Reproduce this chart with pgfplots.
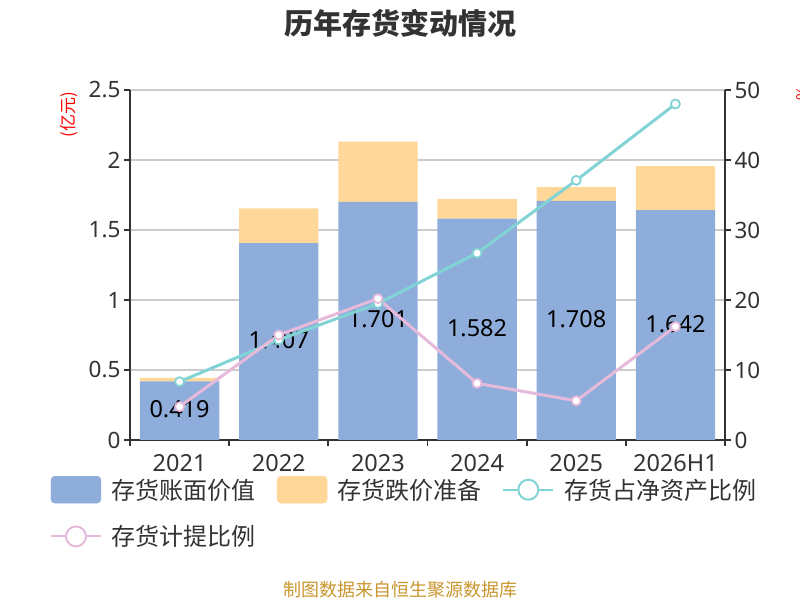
\documentclass[border=0pt]{standalone}
\usepackage{pgfplots}
\pgfplotsset{compat=1.18}
\usepackage{fontspec}
\setmainfont{Noto Sans}
\newfontfamily\cjk{Noto Sans CJK SC}
\definecolor{barblue}{HTML}{8EADDA}
\definecolor{barorange}{HTML}{FFD899}
\definecolor{lteal}{HTML}{82D3D6}
\definecolor{lpink}{HTML}{E6BADB}
\definecolor{axisdark}{HTML}{333333}
\definecolor{gridgray}{HTML}{CCCCCC}
\definecolor{srcgold}{HTML}{C9962E}
\pgfplotsset{
  common/.style={
    at={(130bp,160bp)}, anchor=south west,
    width=595bp, height=350bp, scale only axis,
    xmin=-0.5, xmax=5.5,
    /pgf/number format/assume math mode=true,
  },
}
\begin{document}
\begin{tikzpicture}
% ---- bars, left axis ----
\begin{axis}[common,
  ymin=0, ymax=2.5,
  ybar stacked, bar width=0.8,
  axis x line*=bottom, axis y line*=left,
  axis line style={color=axisdark, line width=1.8bp, -},
  tick style={color=axisdark, line width=1.8bp},
  tick align=outside, major tick length=6bp,
  ytick={0,0.5,1,1.5,2,2.5},
  ymajorgrids, grid style={color=gridgray, line width=1.5bp},
  xtick={-0.5,0.5,1.5,2.5,3.5,4.5,5.5}, xticklabels={},
  extra x ticks={0,1,2,3,4,5},
  extra x tick labels={2021,2022,2023,2024,2025,2026H1},
  extra x tick style={major tick length=0pt, grid=none},
  x tick label style={font=\fontsize{23.5bp}{23.5bp}\selectfont, text=axisdark, yshift=-11bp},
  y tick label style={font=\fontsize{22.5bp}{22.5bp}\selectfont, text=axisdark},
]
\addplot[fill=barblue, draw=none] coordinates {(0,0.419) (1,1.407) (2,1.701) (3,1.582) (4,1.708) (5,1.642)};
\addplot[fill=barorange, draw=none] coordinates {(0,0.024) (1,0.248) (2,0.430) (3,0.139) (4,0.099) (5,0.315)};
\end{axis}
% ---- bar value labels ----
\begin{axis}[common, hide axis, ymin=0, ymax=2.5, clip=false]
\addplot[draw=none, mark=none, nodes near coords, point meta=explicit symbolic,
  every node near coord/.style={anchor=center, text=black, font=\fontsize{23.5bp}{23.5bp}\selectfont}]
  table[meta=label] {
x y label
0 0.2195 0.419
1 0.7135 1.407
2 0.8605 1.701
3 0.8010 1.582
4 0.8640 1.708
5 0.8310 1.642
};
\end{axis}
% ---- lines, right axis ----
\begin{axis}[common,
  ymin=0, ymax=50, clip=false,
  axis x line=none, axis y line*=right,
  axis line style={color=axisdark, line width=1.8bp, -},
  tick style={color=axisdark, line width=1.8bp},
  tick align=outside, major tick length=6bp,
  ytick={0,10,20,30,40,50},
  y tick label style={font=\fontsize{22.5bp}{22.5bp}\selectfont, text=axisdark},
  legend columns=3, legend cell align=left,
  legend style={at={(-0.1345,-0.1029)}, anchor=north west, draw=none, fill=none,
    inner sep=0pt, outer sep=0pt,
    nodes={inner sep=0pt, text=axisdark, font=\cjk\fontsize{24bp}{24bp}\selectfont},
    /tikz/every odd column/.append style={column sep=10bp},
    /tikz/every even column/.append style={column sep=21bp},
    /tikz/row sep=22bp},
]
\addlegendimage{legend image code/.code={\fill[barblue, rounded corners=4bp] (0bp,-13.5bp) rectangle (50bp,13.5bp);}}
\addlegendentry{存货账面价值}
\addlegendimage{legend image code/.code={\fill[barorange, rounded corners=4bp] (0bp,-13.5bp) rectangle (50bp,13.5bp);}}
\addlegendentry{存货跌价准备}
\addlegendimage{legend image code/.code={\draw[lteal, line width=2bp] (0bp,0bp) -- (50bp,0bp); \draw[lteal, fill=white, line width=2bp] (25bp,0bp) circle (10bp);}}
\addlegendentry{存货占净资产比例}
\addlegendimage{legend image code/.code={\draw[lpink, line width=2bp] (0bp,0bp) -- (50bp,0bp); \draw[lpink, fill=white, line width=2bp] (25bp,0bp) circle (10bp);}}
\addlegendentry{存货计提比例}
\addplot[forget plot, color=lteal, line width=3bp, mark=*, mark size=4.5bp,
  mark options={fill=white, draw=lteal, line width=1.8bp}]
  coordinates {(0,8.33) (1,14.3) (2,19.5) (3,26.7) (4,37.1) (5,48.0)};
\addplot[forget plot, color=lpink, line width=3bp, mark=*, mark size=4.5bp,
  mark options={fill=white, draw=lpink, line width=1.8bp}]
  coordinates {(0,4.76) (1,15.0) (2,20.2) (3,8.1) (4,5.6) (5,16.2)};
\end{axis}
% ---- texts ----
\node[text=axisdark, font=\cjk\bfseries\fontsize{29bp}{29bp}\selectfont] at (400bp,577bp) {历年存货变动情况};
\node[text=red, rotate=90, font=\cjk\fontsize{17bp}{17bp}\selectfont] at (69bp,485bp) {(亿元)};
\node[text=red, rotate=90, font=\cjk\fontsize{16bp}{16bp}\selectfont] at (803bp,507bp) {\%};
\node[text=srcgold, font=\cjk\fontsize{18bp}{18bp}\selectfont] at (400bp,10bp) {制图数据来自恒生聚源数据库};
\pgfresetboundingbox
\path[use as bounding box] (0bp,0bp) rectangle (800bp,600bp);
\end{tikzpicture}
\end{document}
